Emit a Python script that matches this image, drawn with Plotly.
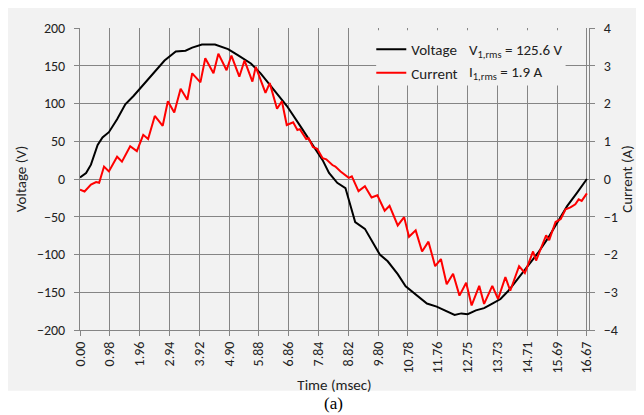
import plotly.graph_objects as go

# time (ms) and values
volt_t = [0.00, 0.20, 0.36, 0.58, 0.74, 0.95, 1.22, 1.49, 1.76, 2.08, 2.40, 2.78, 3.15, 3.47,
          3.69, 4.01, 4.44, 4.87, 5.19, 5.62, 5.94, 6.37, 6.80, 7.23, 7.66, 7.98, 8.19, 8.46,
          8.73, 8.89, 9.05, 9.37, 9.69, 9.86, 10.12, 10.45, 10.71, 11.09, 11.41, 11.73, 12.00,
          12.32, 12.54, 12.75, 13.02, 13.29, 13.56, 13.83, 14.09, 14.41, 14.68, 15.06, 15.38,
          15.70, 16.02, 16.35, 16.67]
volt_v = [2, 8, 19, 45, 55, 62, 79, 99, 110, 125, 140, 157, 169, 170,
          174, 178, 178, 172, 164, 153, 140, 118, 97, 71, 45, 25, 8, -5,
          -12, -36, -57, -66, -87, -100, -109, -126, -142, -155, -165, -169, -174,
          -180, -178, -179, -174, -171, -165, -159, -148, -131, -118, -98, -79,
          -57, -36, -18, 0]

curr_t = [0.00, 0.15, 0.36, 0.53, 0.63, 0.79, 0.95, 1.22, 1.38, 1.65, 1.87, 2.08, 2.24, 2.46,
          2.72, 2.89, 3.10, 3.31, 3.53, 3.69, 3.96, 4.12, 4.39, 4.55, 4.82, 4.98, 5.24, 5.41,
          5.67, 5.78, 6.10, 6.24, 6.48, 6.64, 6.80, 7.01, 7.15, 7.23, 7.44, 7.52, 7.66, 7.80,
          7.98, 8.10, 8.30, 8.40, 8.57,
          8.84, 8.94, 9.16, 9.37, 9.59, 9.78, 10.02, 10.18, 10.45, 10.66, 10.82, 11.04, 11.25,
          11.46, 11.68, 11.87, 12.06, 12.27, 12.48, 12.70, 12.88, 13.13, 13.29, 13.56, 13.75,
          13.99, 14.15, 14.44, 14.63, 14.90, 15.00, 15.33, 15.43, 15.64, 15.81, 15.97, 16.13,
          16.29, 16.40, 16.50, 16.67]
curr_i = [-0.28, -0.33, -0.15, -0.08, -0.10, 0.33, 0.20, 0.59, 0.46, 0.87, 0.74, 1.17, 1.06, 1.67,
          1.41, 2.06, 1.76, 2.39, 2.10, 2.80, 2.56, 3.20, 2.80, 3.32, 2.88, 3.27, 2.71, 3.14,
          2.58, 2.97, 2.28, 2.54, 1.86, 2.06, 1.43, 1.50, 1.30, 1.32, 1.06, 1.08, 0.85, 0.80,
          0.55, 0.52, 0.37, 0.33, 0.20,
          0.03, 0.07, -0.32, -0.19, -0.49, -0.43, -0.84, -0.71, -1.23, -1.01, -1.53, -1.36, -1.92,
          -1.66, -2.31, -2.12, -2.79, -2.51, -3.09, -2.75, -3.35, -2.83, -3.31, -2.83, -3.18,
          -2.60, -2.96, -2.31, -2.49, -1.92, -2.16, -1.49, -1.62, -1.14, -1.06, -0.80, -0.75,
          -0.67, -0.54, -0.58, -0.38]

x_ticks = ['0.00', '0.98', '1.96', '2.94', '3.92', '4.90', '5.88', '6.86', '7.84', '8.82',
           '9.80', '10.78', '11.76', '12.75', '13.73', '14.71', '15.69', '16.67']
x_tickvals = [i * 16.67 / 17 for i in range(len(x_ticks))]

FONT = "Carlito, Liberation Sans Narrow, Open Sans, sans-serif"
GRID = "#858585"
TXT = "#222222"

# figure pixel -> paper coords (plot area 64..583 x 14..322)
def px(X):
    return (X - 64) / 519

def py(Y):
    return (322 - Y) / 308

fig = go.Figure()
fig.add_trace(go.Scatter(x=volt_t, y=volt_v, mode="lines", name="Voltage", legend="legend",
                         line=dict(color="black", width=2)))
fig.add_trace(go.Scatter(x=curr_t, y=curr_i, mode="lines", name="Current", yaxis="y2",
                         legend="legend2", line=dict(color="#ff0000", width=2)))

# gray chart area, white caption strip below it
fig.add_shape(type="rect", xref="paper", yref="paper", layer="below",
              x0=px(-20), x1=px(660), y0=py(384), y1=py(-20),
              fillcolor="#f2f2f2", line_width=0)
# legend box hides the grid
fig.add_shape(type="rect", xref="x", yref="y", layer="above",
              x0=9.74, x1=15.97, y0=124, y1=197,
              fillcolor="#f2f2f2", line_width=0)

fig.add_annotation(text="V<sub>1,rms</sub> = 125.6 V", xref="paper", yref="paper",
                   x=px(459), y=py(37), xanchor="left", yanchor="middle",
                   showarrow=False, font=dict(size=15, color=TXT, family=FONT))
fig.add_annotation(text="I<sub>1,rms</sub> = 1.9 A", xref="paper", yref="paper",
                   x=px(459), y=py(60), xanchor="left", yanchor="middle",
                   showarrow=False, font=dict(size=15, color=TXT, family=FONT))
fig.add_annotation(text="(a)", xref="paper", yref="paper", x=px(322), y=py(397),
                   xanchor="center", yanchor="middle", showarrow=False,
                   font=dict(size=17, color="black", family="Liberation Serif, serif"))

leg = dict(xanchor="left", yanchor="middle", bgcolor="rgba(0,0,0,0)",
           font=dict(size=15, color=TXT, family=FONT), itemwidth=30)

fig.update_layout(
    width=636, height=407,
    margin=dict(l=64, r=53, t=14, b=85),
    paper_bgcolor="white", plot_bgcolor="rgba(0,0,0,0)",
    font=dict(family=FONT, size=14, color=TXT),
    showlegend=True,
    legend=dict(leg, x=px(361), y=py(36)),
    legend2=dict(leg, x=px(361), y=py(60)),
    xaxis=dict(range=[0, 16.74], tickvals=x_tickvals, ticktext=x_ticks, tickangle=-90,
               showgrid=True, gridcolor=GRID, gridwidth=1, zeroline=False,
               showline=True, linecolor=GRID, ticks="outside", ticklen=5, tickcolor=GRID,
               title=dict(text="Time (msec)", font=dict(size=15, color=TXT), standoff=6),
               tickfont=dict(size=14, color=TXT)),
    yaxis=dict(range=[-200, 200], dtick=50, showgrid=True, gridcolor=GRID, gridwidth=1,
               zeroline=False, showline=True, linecolor=GRID, ticks="outside", ticklen=5,
               tickcolor=GRID, ticklabelstandoff=6,
               title=dict(text="Voltage (V)", font=dict(size=15, color=TXT), standoff=6),
               tickfont=dict(size=14, color=TXT)),
    yaxis2=dict(range=[-4, 4], dtick=1, overlaying="y", side="right", showgrid=False,
                zeroline=False, showline=True, linecolor=GRID, ticks="outside", ticklen=5,
                tickcolor=GRID, ticklabelstandoff=6,
                title=dict(text="Current (A)", font=dict(size=15, color=TXT), standoff=4),
                tickfont=dict(size=14, color=TXT)),
)

fig.write_html("out.html")
